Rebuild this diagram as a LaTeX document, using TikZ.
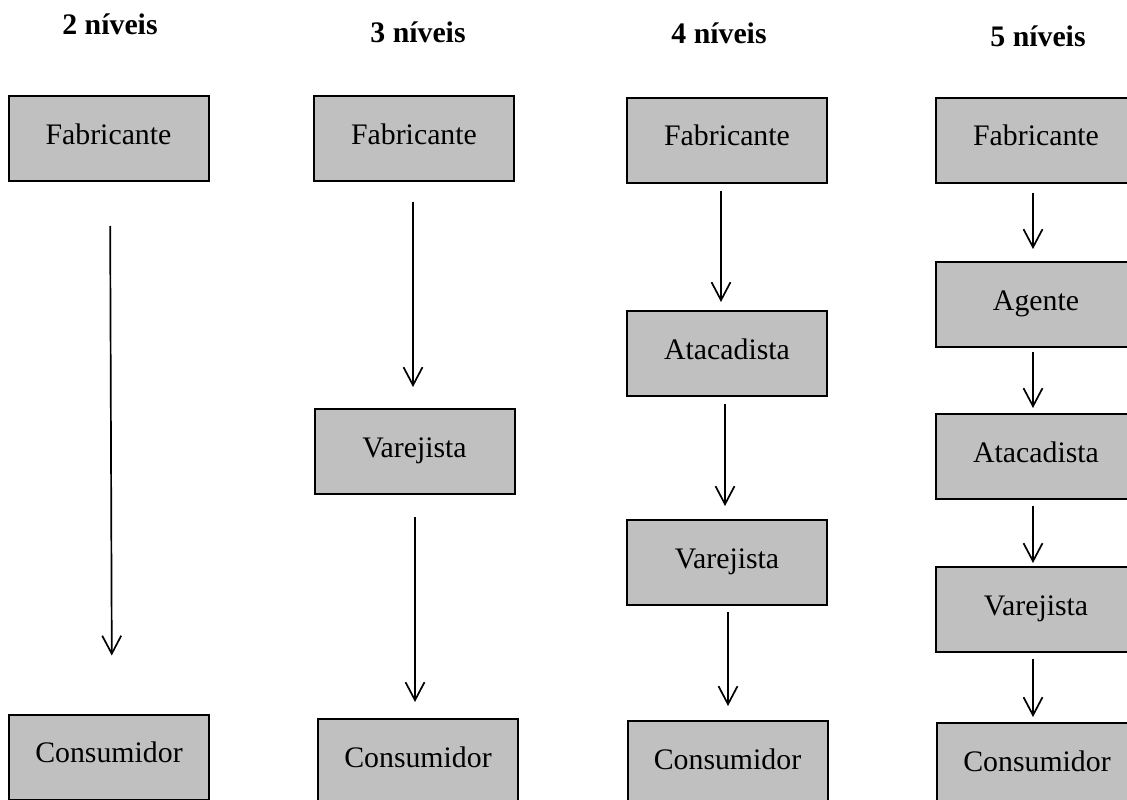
\documentclass[tikz,border=0pt]{standalone}
\usepackage{fontspec}
\setmainfont{Liberation Serif}
\usetikzlibrary{arrows.meta}
\definecolor{boxgray}{RGB}{192,192,192}
\begin{document}
\begin{tikzpicture}[x=1pt,y=-1pt,
  level/.style={draw=black,line width=2pt,fill=boxgray,rectangle,
    minimum width=200pt,minimum height=85pt,inner sep=0pt,
    text height=20.4pt,text depth=9.4pt,
    font=\fontsize{29.8}{36}\selectfont},
  heading/.style={anchor=base,inner sep=0pt,
    font=\fontsize{29.8}{36}\selectfont\bfseries},
  flow/.style={line width=1.7pt,-{Straight Barb[length=18pt,width=19pt,line width=1.7pt]}}]
\useasboundingbox (0,0) rectangle (1127,800);
\clip (0,0) rectangle (1127,800);

% column headings
\node[heading] (h2) at (110,35) {2 níveis};
\node[heading] (h3) at (418,43) {3 níveis};
\node[heading] (h4) at (719,44) {4 níveis};
\node[heading] (h5) at (1038,47) {5 níveis};

% 2 levels
\node[level] (fabA) at (108.5,138.5) {Fabricante};
\node[level] (conA) at (109,757) {Consumidor};
\draw[flow,shorten <=44pt,shorten >=58pt] ([xshift=1.5pt]fabA.south) -- ([xshift=3pt]conA.north);

% 3 levels
\node[level] (fabB) at (414,138.5) {Fabricante};
\node[level] (varB) at (414.5,451.5) {Varejista};
\node[level] (conB) at (418,761.5) {Consumidor};
\draw[flow,shorten <=20pt,shorten >=21pt] ([xshift=-1pt]fabB.south) -- ([xshift=-1.5pt]varB.north);
\draw[flow,shorten <=22pt,shorten >=16pt] ([xshift=0.5pt]varB.south) -- ([xshift=-3pt]conB.north);

% 4 levels
\node[level] (fabC) at (727,140) {Fabricante};
\node[level] (ataC) at (727,353.5) {Atacadista};
\node[level] (varC) at (727,562.5) {Varejista};
\node[level] (conC) at (727.5,763.5) {Consumidor};
\draw[flow,shorten <=7pt,shorten >=8pt] ([xshift=-6pt]fabC.south) -- ([xshift=-6pt]ataC.north);
\draw[flow,shorten <=7pt,shorten >=13pt] ([xshift=-2pt]ataC.south) -- ([xshift=-2pt]varC.north);
\draw[flow,shorten <=6pt,shorten >=14pt] ([xshift=1pt]varC.south) -- ([xshift=0.5pt]conC.north);

% 5 levels
\node[level] (fabD) at (1036,140) {Fabricante};
\node[level] (ageD) at (1036,304.5) {Agente};
\node[level] (ataD) at (1036,456.5) {Atacadista};
\node[level] (varD) at (1036,609.5) {Varejista};
\node[level] (conD) at (1037,765.5) {Consumidor};
\draw[flow,shorten <=9pt,shorten >=12pt] ([xshift=-3pt]fabD.south) -- ([xshift=-3pt]ageD.north);
\draw[flow,shorten <=4pt,shorten >=5pt] ([xshift=-3pt]ageD.south) -- ([xshift=-3pt]ataD.north);
\draw[flow,shorten <=6pt,shorten >=3pt] ([xshift=-3pt]ataD.south) -- ([xshift=-3pt]varD.north);
\draw[flow,shorten <=6pt,shorten >=5pt] ([xshift=-3pt]varD.south) -- ([xshift=-4pt]conD.north);
\end{tikzpicture}
\end{document}
